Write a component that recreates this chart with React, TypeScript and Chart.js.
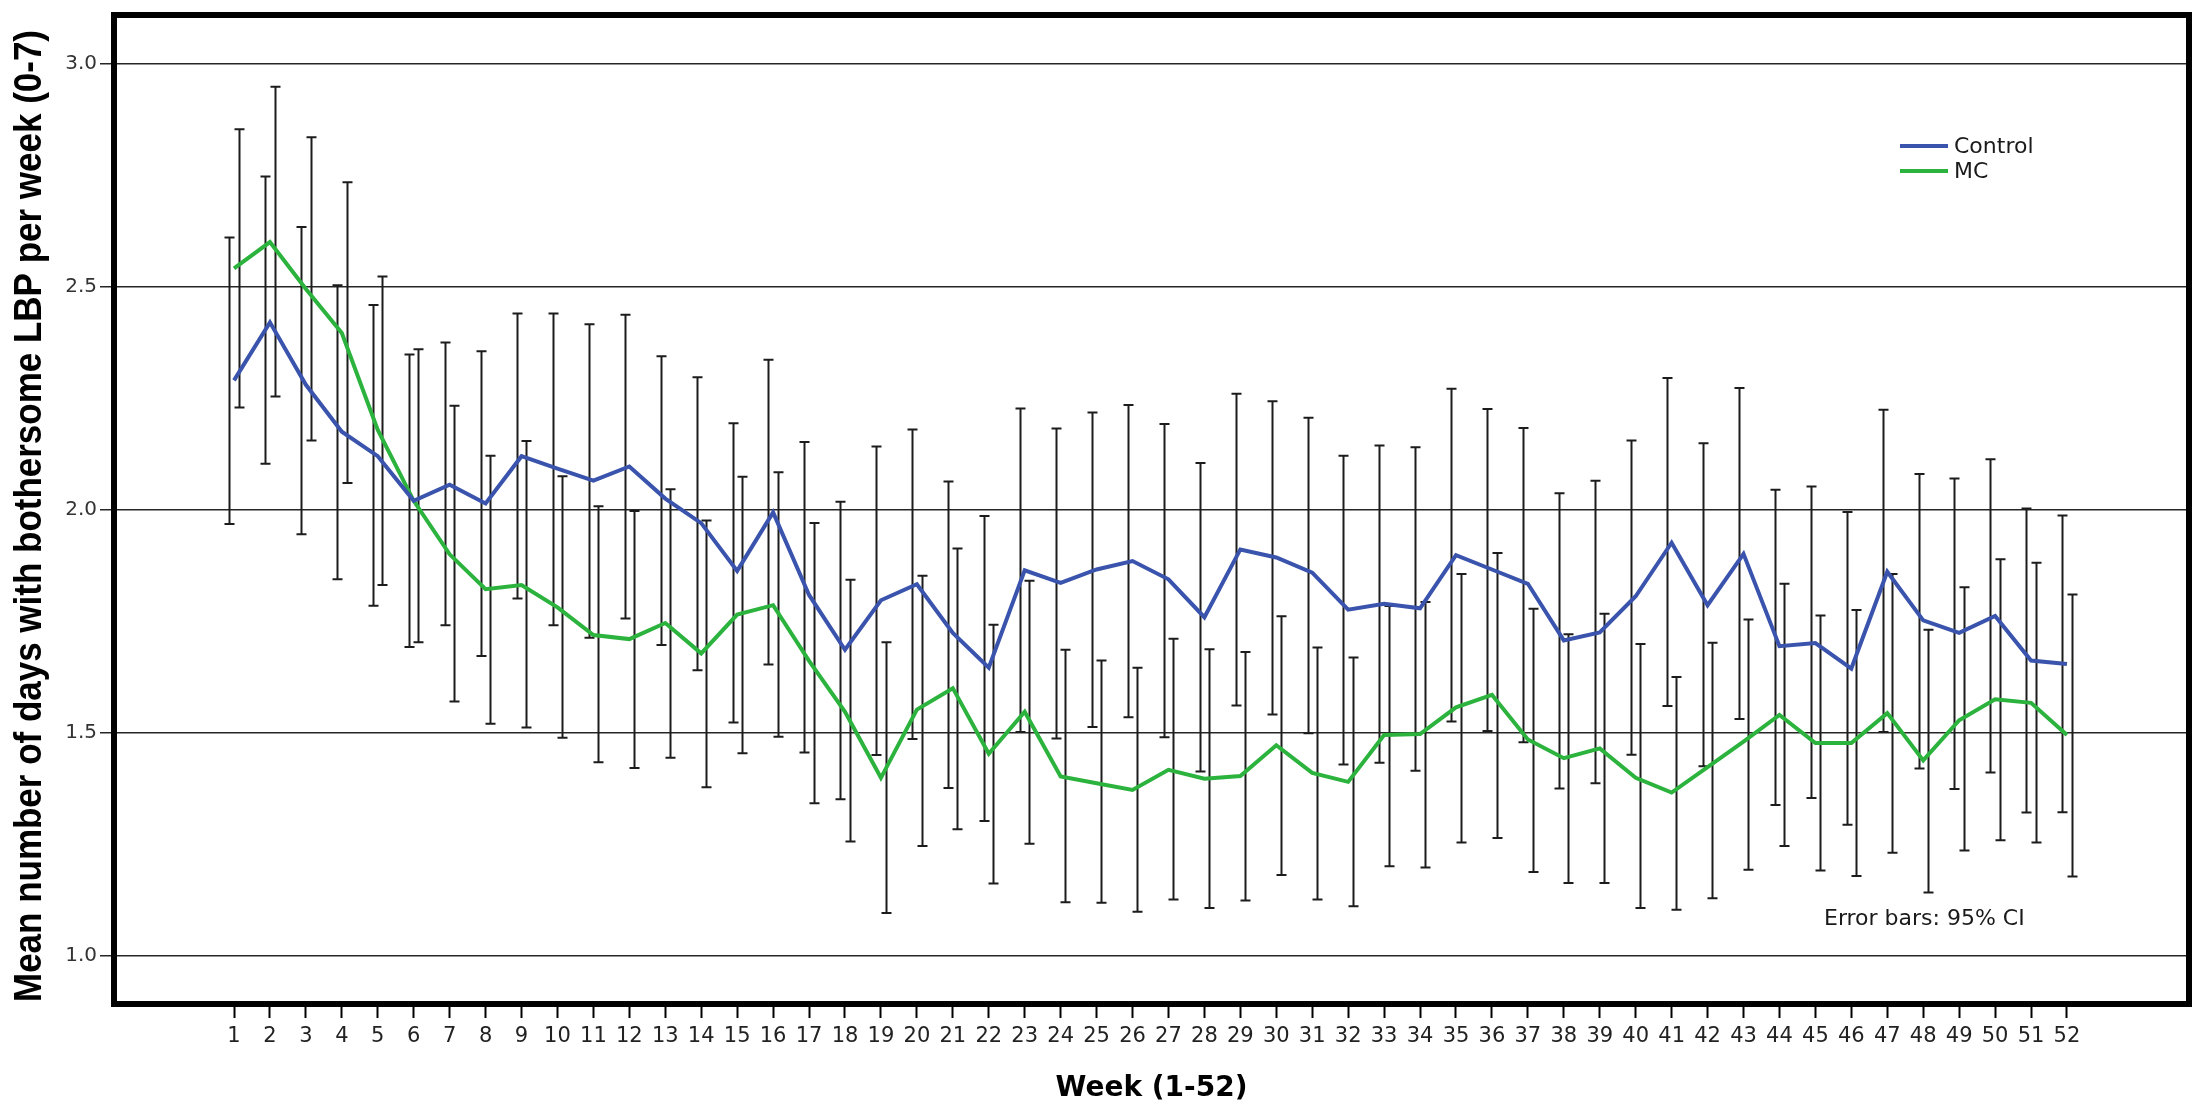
import React, { useEffect, useRef } from "react";
import { Chart, registerables } from "chart.js";

Chart.register(...registerables);

const weeks = Array.from({ length: 52 }, (_, i) => i + 1);

const controlMean = [
  2.29, 2.42, 2.28, 2.175, 2.12, 2.02, 2.056, 2.014, 2.12, 2.092,
  2.065, 2.097, 2.025, 1.97, 1.863, 1.994, 1.809, 1.686, 1.797, 1.833,
  1.724, 1.646, 1.864, 1.836, 1.866, 1.885, 1.844, 1.759, 1.911, 1.893,
  1.859, 1.776, 1.789, 1.779, 1.898, 1.866, 1.834, 1.707, 1.725, 1.806,
  1.926, 1.786, 1.901, 1.694, 1.701, 1.644, 1.861, 1.752, 1.724, 1.762,
  1.662, 1.654,
];
const controlLow = [
  1.968, 2.103, 1.945, 1.844, 1.785, 1.692, 1.741, 1.672, 1.801, 1.741,
  1.713, 1.756, 1.697, 1.64, 1.523, 1.653, 1.456, 1.351, 1.45, 1.486,
  1.376, 1.302, 1.502, 1.487, 1.513, 1.535, 1.49, 1.413, 1.561, 1.541,
  1.499, 1.429, 1.433, 1.415, 1.525, 1.504, 1.479, 1.375, 1.387, 1.451,
  1.56, 1.425, 1.531, 1.338, 1.354, 1.294, 1.502, 1.42, 1.374, 1.411,
  1.321, 1.322,
];
const controlHigh = [
  2.61, 2.747, 2.634, 2.503, 2.459, 2.348, 2.375, 2.355, 2.44, 2.44,
  2.416, 2.437, 2.344, 2.297, 2.194, 2.336, 2.152, 2.018, 2.142, 2.18,
  2.063, 1.986, 2.227, 2.182, 2.218, 2.235, 2.192, 2.105, 2.26, 2.243,
  2.206, 2.121, 2.144, 2.14, 2.271, 2.226, 2.183, 2.037, 2.065, 2.155,
  2.295, 2.149, 2.273, 2.045, 2.052, 1.995, 2.224, 2.08, 2.07, 2.113,
  2.003, 1.987,
];

const mcMean = [
  2.541, 2.6, 2.495, 2.396, 2.179, 2.02, 1.9, 1.822, 1.831, 1.781,
  1.719, 1.71, 1.746, 1.678, 1.765, 1.786, 1.661, 1.547, 1.399, 1.552,
  1.6, 1.453, 1.547, 1.402, 1.387, 1.372, 1.417, 1.397, 1.403, 1.472,
  1.41, 1.39, 1.495, 1.497, 1.557, 1.585, 1.485, 1.443, 1.465, 1.399,
  1.366, 1.423, 1.48, 1.54, 1.477, 1.477, 1.544, 1.438, 1.528, 1.575,
  1.567, 1.495,
];
const mcLow = [
  2.229, 2.254, 2.155, 2.06, 1.831, 1.703, 1.57, 1.52, 1.512, 1.489,
  1.434, 1.421, 1.444, 1.378, 1.454, 1.491, 1.342, 1.256, 1.096, 1.246,
  1.284, 1.162, 1.251, 1.12, 1.119, 1.099, 1.126, 1.107, 1.124, 1.181,
  1.126, 1.111, 1.201, 1.198, 1.254, 1.264, 1.188, 1.163, 1.163, 1.107,
  1.103, 1.129, 1.193, 1.246, 1.191, 1.179, 1.231, 1.142, 1.236, 1.259,
  1.254, 1.178,
];
const mcHigh = [
  2.853, 2.948, 2.835, 2.734, 2.523, 2.36, 2.233, 2.121, 2.154, 2.075,
  2.008, 1.997, 2.046, 1.976, 2.074, 2.084, 1.97, 1.843, 1.703, 1.852,
  1.913, 1.742, 1.841, 1.686, 1.662, 1.646, 1.711, 1.687, 1.681, 1.761,
  1.691, 1.669, 1.784, 1.793, 1.856, 1.903, 1.778, 1.721, 1.767, 1.699,
  1.625, 1.702, 1.754, 1.834, 1.763, 1.775, 1.856, 1.731, 1.826, 1.889,
  1.881, 1.81,
];

const yTickValues = [1.0, 1.5, 2.0, 2.5, 3.0];
const seriesNames = ["Control", "MC"];
const yTitle = "Mean number of days with bothersome LBP per week (0-7)";
const xTitle = "Week (1-52)";
const noteText = "Error bars: 95% CI";

const BLUE = "#3a54ad";
const GREEN = "#2bb33d";
const TICK_FONT = "'DejaVu Sans', Verdana, sans-serif";

export default function App() {
  const ref = useRef<HTMLCanvasElement | null>(null);

  useEffect(() => {
    const canvas = ref.current;
    if (!canvas) return;

    const errorBars = {
      id: "errorBars",
      beforeDatasetsDraw(chart: any) {
        const { ctx, scales } = chart;
        const xs = scales.x;
        const ys = scales.y;
        ctx.save();
        ctx.strokeStyle = "#1c1c1c";
        ctx.lineWidth = 2;
        const groups = [
          { off: -0.13, lo: controlLow, hi: controlHigh },
          { off: 0.13, lo: mcLow, hi: mcHigh },
        ];
        groups.forEach((g) => {
          weeks.forEach((w, i) => {
            const x = Math.round(xs.getPixelForValue(w + g.off)) + 0.5;
            const y1 = ys.getPixelForValue(g.lo[i]);
            const y2 = ys.getPixelForValue(g.hi[i]);
            ctx.beginPath();
            ctx.moveTo(x, y1);
            ctx.lineTo(x, y2);
            ctx.moveTo(x - 5, y1);
            ctx.lineTo(x + 5, y1);
            ctx.moveTo(x - 5, y2);
            ctx.lineTo(x + 5, y2);
            ctx.stroke();
          });
        });
        ctx.restore();
      },
    };

    const decorations = {
      id: "decorations",
      afterDraw(chart: any) {
        const { ctx, chartArea } = chart;
        const { left, right, top, bottom } = chartArea;
        ctx.save();
        // frame
        ctx.strokeStyle = "#000";
        ctx.lineWidth = 6;
        ctx.strokeRect(left, top, right - left, bottom - top);

        // legend
        const legendColors = [BLUE, GREEN];
        const legendY = [146, 171];
        ctx.font = `22px ${TICK_FONT}`;
        ctx.textBaseline = "middle";
        ctx.textAlign = "left";
        seriesNames.forEach((name, i) => {
          ctx.strokeStyle = legendColors[i];
          ctx.lineWidth = 4;
          ctx.beginPath();
          ctx.moveTo(1900, legendY[i]);
          ctx.lineTo(1948, legendY[i]);
          ctx.stroke();
          ctx.fillStyle = "#1a1a1a";
          ctx.fillText(name, 1954, legendY[i] + 1);
        });

        // note
        ctx.font = `22px ${TICK_FONT}`;
        ctx.fillStyle = "#1a1a1a";
        ctx.fillText(noteText, 1824, 919);

        // x title
        ctx.font = `bold 28px ${TICK_FONT}`;
        ctx.fillStyle = "#000";
        ctx.textAlign = "center";
        ctx.fillText(xTitle, (left + right) / 2, 1089);

        // y title (condensed bold)
        ctx.font = "bold 38px 'Liberation Sans Narrow', 'Liberation Sans', Arial, sans-serif";
        const w = ctx.measureText(yTitle).width;
        const target = 972;
        ctx.translate(31, 516);
        ctx.rotate(-Math.PI / 2);
        ctx.scale(target / w, 1);
        ctx.textAlign = "center";
        ctx.textBaseline = "middle";
        ctx.fillText(yTitle, 0, 0);
        ctx.restore();
      },
    };

    const chart = new Chart(canvas, {
      type: "line",
      data: {
        datasets: [
          {
            label: seriesNames[0],
            data: weeks.map((w, i) => ({ x: w, y: controlMean[i] })),
            borderColor: BLUE,
            borderWidth: 4,
            pointRadius: 0,
            tension: 0,
            fill: false,
          },
          {
            label: seriesNames[1],
            data: weeks.map((w, i) => ({ x: w, y: mcMean[i] })),
            borderColor: GREEN,
            borderWidth: 4,
            pointRadius: 0,
            tension: 0,
            fill: false,
          },
        ],
      },
      options: {
        responsive: false,
        animation: false,
        layout: { padding: { top: 10, right: 11, bottom: 0, left: 0 } },
        plugins: {
          legend: { display: false },
          tooltip: { enabled: false },
          title: { display: false },
        },
        scales: {
          x: {
            type: "linear",
            min: -2.339,
            max: 55.395,
            afterBuildTicks: (scale: any) => {
              scale.ticks = weeks.map((v) => ({ value: v }));
            },
            afterFit: (scale: any) => {
              scale.height = 112;
            },
            border: { display: false },
            grid: {
              drawOnChartArea: false,
              drawTicks: true,
              tickLength: 14,
              tickWidth: 2,
              tickColor: "#000",
            },
            ticks: {
              autoSkip: false,
              maxRotation: 0,
              padding: 6,
              color: "#222",
              font: { family: TICK_FONT, size: 21 },
              callback: (v: any) => String(v),
            },
          },
          y: {
            type: "linear",
            min: 0.892,
            max: 3.109,
            afterBuildTicks: (scale: any) => {
              scale.ticks = yTickValues.map((v) => ({ value: v }));
            },
            afterFit: (scale: any) => {
              scale.width = 114;
            },
            border: { display: false },
            grid: {
              color: "rgba(0,0,0,0.85)",
              lineWidth: 1.5,
              drawTicks: true,
              tickLength: 14,
              tickColor: "rgba(0,0,0,0.85)",
            },
            ticks: {
              padding: 3,
              color: "#333",
              font: { family: TICK_FONT, size: 20 },
              callback: (v: any) => Number(v).toFixed(1),
            },
          },
        },
      },
      plugins: [errorBars, decorations],
    });

    return () => chart.destroy();
  }, []);

  return (
    <div
      style={{
        position: "fixed",
        left: 0,
        top: 0,
        width: 2200,
        height: 1116,
        background: "#fff",
      }}
    >
      <canvas ref={ref} width={2200} height={1116} style={{ width: 2200, height: 1116, display: "block" }} />
    </div>
  );
}
